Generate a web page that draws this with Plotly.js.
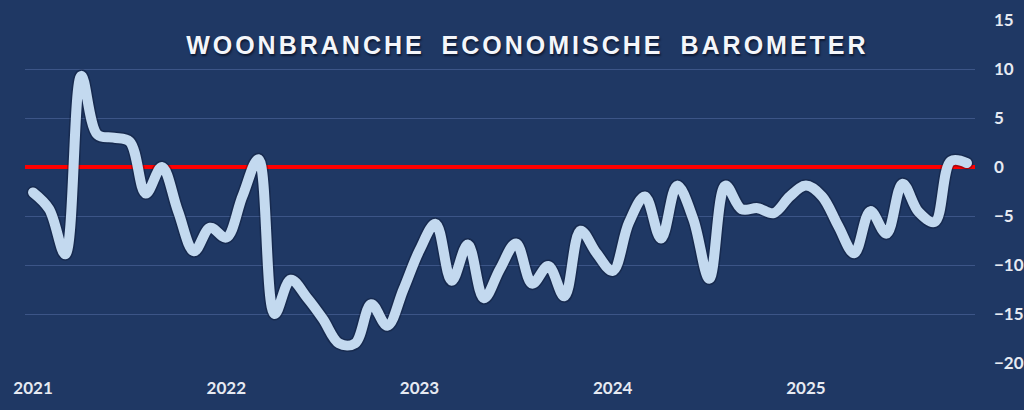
<!DOCTYPE html>
<html>
<head>
<meta charset="utf-8">
<script src="https://cdn.plot.ly/plotly-3.0.1.min.js"></script>
<style>
html,body{margin:0;padding:0;background:#1f3864;}
#chart{width:1024px;height:410px;}
</style>
</head>
<body>
<div id="chart"></div>
<script>
// Monthly barometer readings, Jan 2021 .. Nov 2025
const months = [];
for (let y = 2021; y <= 2025; y++) {
  for (let m = 1; m <= 12; m++) {
    if (y === 2025 && m > 11) break;
    months.push(y + '-' + String(m).padStart(2, '0'));
  }
}
const values = [
  -2.6, -4.3, -8.9, 9.3, 3.3, 3.0, 2.6, -2.7, 0.0, -4.5, -8.6, -6.2,   // 2021
  -7.2, -3.0, 0.8, -15.0, -11.5, -13.3, -15.5, -18.0, -18.0, -14.0, -16.2, -12.5, // 2022
  -8.5, -5.8, -11.6, -7.9, -13.4, -10.4, -7.8, -11.9, -10.1, -13.2, -6.5, -8.8, // 2023
  -10.6, -5.7, -3.0, -7.3, -1.9, -5.3, -11.4, -1.9, -4.3, -4.2, -4.7, -3.0, // 2024
  -1.9, -3.0, -6.0, -8.8, -4.5, -6.8, -1.7, -4.6, -5.6, 0.6, 0.4          // 2025
];
const yearTickVals = ['2021-01', '2022-01', '2023-01', '2024-01', '2025-01'];
const yearTickText = ['2021', '2022', '2023', '2024', '2025'];
const yTicks = [15, 10, 5, 0, -5, -10, -15, -20];
const chartTitle = 'WOONBRANCHE ECONOMISCHE BAROMETER';

const tickFont = {family: 'Lato, "Open Sans", sans-serif', size: 17, color: '#e6eaf2', weight: 700};

const traces = [
  {
    x: months, y: values, type: 'scatter', mode: 'lines',
    line: {color: 'rgba(8,18,40,0.35)', width: 13, shape: 'spline', smoothing: 1},
    hoverinfo: 'skip', showlegend: false
  },
  {
    x: months, y: values, type: 'scatter', mode: 'lines',
    line: {color: '#c3d9ef', width: 10, shape: 'spline', smoothing: 1},
    showlegend: false
  }
];

const layout = {
  width: 1024, height: 410,
  paper_bgcolor: '#1f3864', plot_bgcolor: '#1f3864',
  margin: {l: 25, r: 49, t: 20, b: 47},
  showlegend: false,
  title: {
    text: chartTitle,
    x: 0.515, xanchor: 'center', y: 0.89, yanchor: 'middle',
    font: {family: 'Arial, "Liberation Sans", sans-serif', size: 25, color: '#f4f6fa', weight: 700,
           shadow: '1px 2px 2px rgba(5,12,30,0.7)'}
  },
  xaxis: {
    type: 'category', range: [-0.5, months.length - 0.5],
    tickmode: 'array', tickvals: yearTickVals, ticktext: yearTickText,
    showgrid: false, zeroline: false, showline: false, ticks: '',
    tickfont: tickFont, ticklabelstandoff: 13
  },
  yaxis: {
    side: 'right', range: [-20, 15], tickmode: 'array', tickvals: yTicks,
    showgrid: true, gridcolor: '#3c5587', gridwidth: 1,
    zeroline: true, zerolinecolor: '#ff0000', zerolinewidth: 4,
    showline: false, ticks: '', tickfont: tickFont, ticklabelstandoff: 18
  }
};

Plotly.newPlot('chart', traces, layout, {displayModeBar: false, staticPlot: true}).then(function () {
  document.querySelectorAll('.scatterlayer path.js-line').forEach(function (p) {
    p.style.strokeLinecap = 'round';
    p.style.strokeLinejoin = 'round';
  });
  const t = document.querySelector('.gtitle');
  if (t) { t.style.letterSpacing = '3px'; t.style.wordSpacing = '7px'; }
});
</script>
</body>
</html>
